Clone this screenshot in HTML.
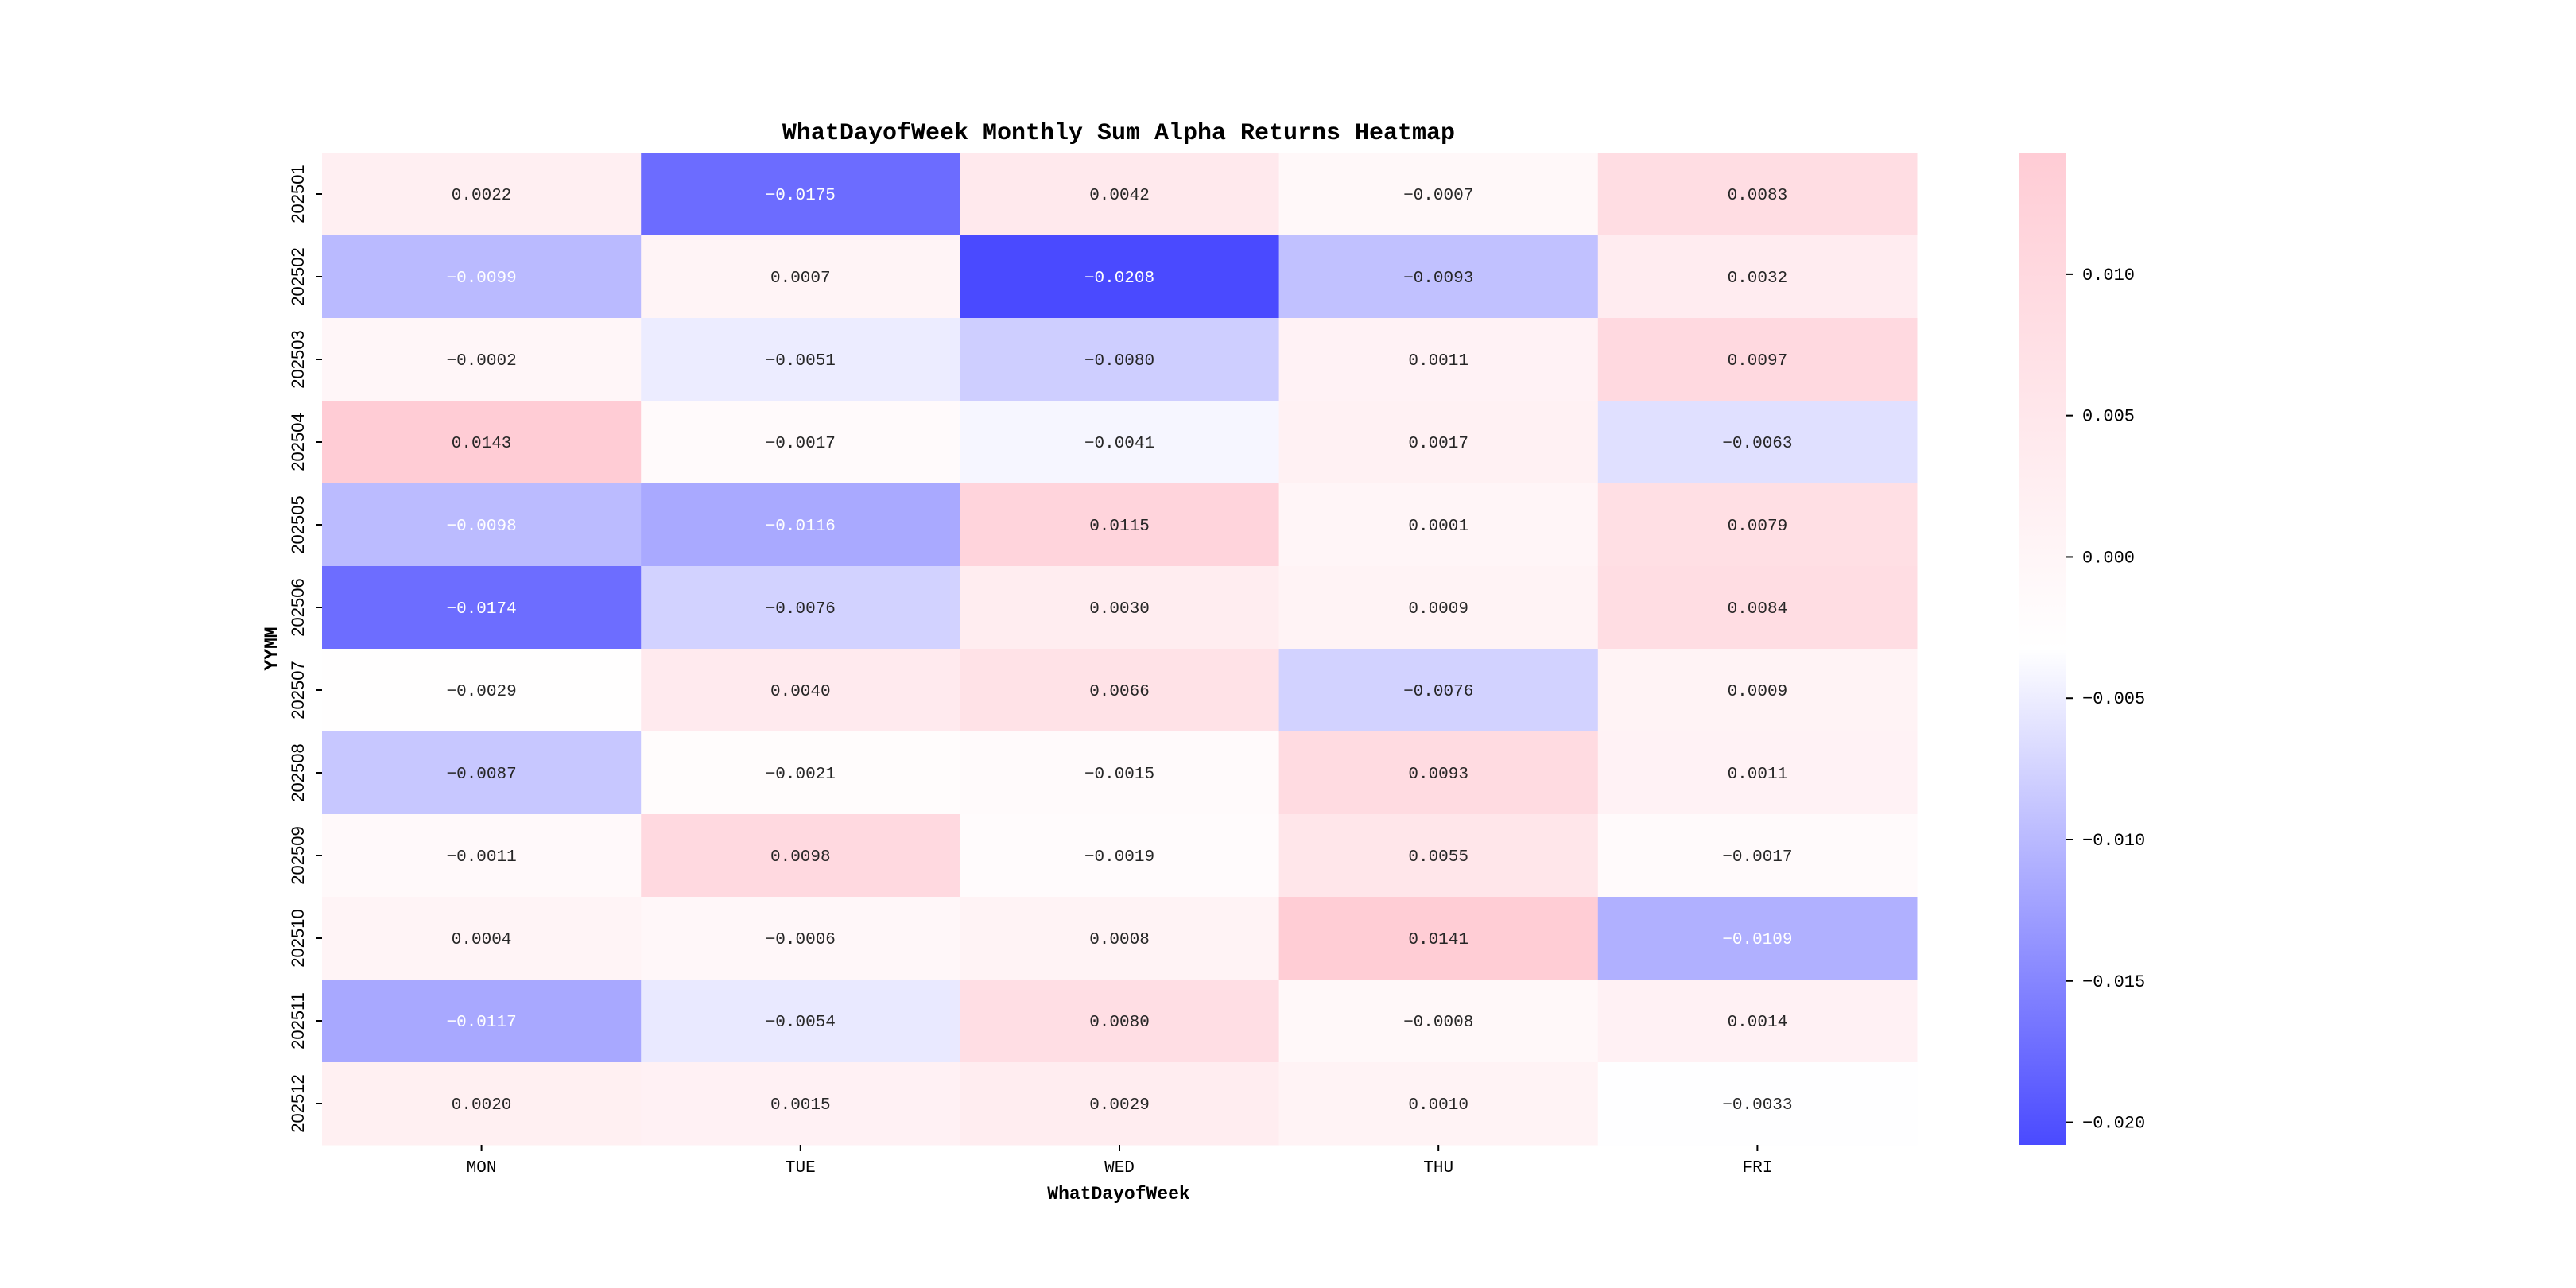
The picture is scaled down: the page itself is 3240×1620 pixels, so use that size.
<!DOCTYPE html>
<html><head><meta charset="utf-8"><style>
html,body{margin:0;padding:0;background:#fff;}
svg{display:block;}
text{font-family:"Liberation Mono","DejaVu Sans Mono",monospace;}
</style></head><body>
<svg id="chart" width="3240" height="1620" xmlns="http://www.w3.org/2000/svg">
<text x="1407" y="175" font-size="30" text-anchor="middle" font-weight="bold">WhatDayofWeek Monthly Sum Alpha Returns Heatmap</text>
<text x="1407" y="1508" font-size="23" text-anchor="middle" font-weight="bold">WhatDayofWeek</text>
<text x="0" y="0" font-size="23" text-anchor="middle" font-weight="bold" transform="translate(348,816) rotate(-90)">YYMM</text>
<g id="cells"></g><g id="xticks"></g><g id="yticks"></g><g id="cbar"></g>
</svg>
<script>
const days = ["MON","TUE","WED","THU","FRI"];
const months = ["202501","202502","202503","202504","202505","202506","202507","202508","202509","202510","202511","202512"];
const mon = [0.0022,-0.0099,-0.0002,0.0143,-0.0098,-0.0174,-0.0029,-0.0087,-0.0011,0.0004,-0.0117,0.0020];
const tue = [-0.0175,0.0007,-0.0051,-0.0017,-0.0116,-0.0076,0.0040,-0.0021,0.0098,-0.0006,-0.0054,0.0015];
const wed = [0.0042,-0.0208,-0.0080,-0.0041,0.0115,0.0030,0.0066,-0.0015,-0.0019,0.0008,0.0080,0.0029];
const thu = [-0.0007,-0.0093,0.0011,0.0017,0.0001,0.0009,-0.0076,0.0093,0.0055,0.0141,-0.0008,0.0010];
const fri = [0.0083,0.0032,0.0097,-0.0063,0.0079,0.0084,0.0009,0.0011,-0.0017,-0.0109,0.0014,-0.0033];
const cbarTicks = [0.010,0.005,0.000,-0.005,-0.010,-0.015,-0.020];
const vmin = -0.0208, vmax = 0.0143;

const cols = [mon,tue,wed,thu,fri];
const NS="http://www.w3.org/2000/svg";
const L=405,R=2411,T=192,B=1440;
const cw=(R-L)/days.length, rh=(B-T)/months.length;
const xOf=i=>L+i*cw, yOf=j=>T+j*rh;
function color(v){
  let t=(v-vmin)/(vmax-vmin); t=Math.max(0,Math.min(1,t));
  let r,g,b;
  if(t<0.5){const s=t/0.5; r=74+(255-74)*s; g=74+(255-74)*s; b=255;}
  else{const s=(t-0.5)/0.5; r=255; g=255+(204-255)*s; b=255+(213-255)*s;}
  return `rgb(${Math.round(r)},${Math.round(g)},${Math.round(b)})`;
}
function el(tag,attrs,parent){const e=document.createElementNS(NS,tag);for(const k in attrs)e.setAttribute(k,attrs[k]);parent.appendChild(e);return e;}
const fmt=v=>(v<0?"\u2212":"")+Math.abs(v).toFixed(4);
const gc=document.getElementById('cells');
cols.forEach((col,i)=>{col.forEach((v,j)=>{
  const r=el('rect',{x:xOf(i),y:yOf(j),width:cw+0.5,height:rh+0.5,fill:color(v)},gc);
  
  
  const t=el('text',{x:xOf(i)+cw/2,y:yOf(j)+rh/2+7,'font-size':21,'text-anchor':'middle',fill:(v<-0.0095?'#fff':'#262626')},gc);
  t.textContent=fmt(v);
  
  
});});
const gx=document.getElementById('xticks');
days.forEach((d,i)=>{
  const cx=xOf(i)+cw/2;
  el('line',{x1:cx,y1:B,x2:cx,y2:B+8,stroke:'#000','stroke-width':2},gx);
  const t=el('text',{x:cx,y:B+34,'font-size':21,'text-anchor':'middle'},gx);
  t.textContent=d;
  
  
});
const gy=document.getElementById('yticks');
months.forEach((m,j)=>{
  const cy=yOf(j)+rh/2;
  el('line',{x1:L-8,y1:cy,x2:L,y2:cy,stroke:'#000','stroke-width':2},gy);
  const t=el('text',{x:0,y:0,'font-size':22,'text-anchor':'middle',transform:`translate(382,${cy}) rotate(-90)`,style:'font-family:"Liberation Sans",sans-serif'},gy);
  t.textContent=m;
  
  
});
const gb=document.getElementById('cbar');
const CL=2539,CR=2599;
const cy=v=>T+(vmax-v)/(vmax-vmin)*(B-T);
const defs=el('defs',{},gb);
const grad=el('linearGradient',{id:'cg',x1:0,y1:1,x2:0,y2:0},defs);
[0,0.5,1].forEach(s=>el('stop',{offset:s,'stop-color':color(vmin+s*(vmax-vmin))},grad));
const bar=el('rect',{x:CL,y:T,width:CR-CL,height:B-T,fill:'url(#cg)'},gb);


cbarTicks.forEach(v=>{
  const y=cy(v);
  el('line',{x1:CR,y1:y,x2:CR+8,y2:y,stroke:'#000','stroke-width':2},gb);
  const t=el('text',{x:CR+20,y:y+7,'font-size':22},gb);
  t.textContent=(v<0?"\u2212":"")+Math.abs(v).toFixed(3);
  
  
});
</script>
</body></html>
